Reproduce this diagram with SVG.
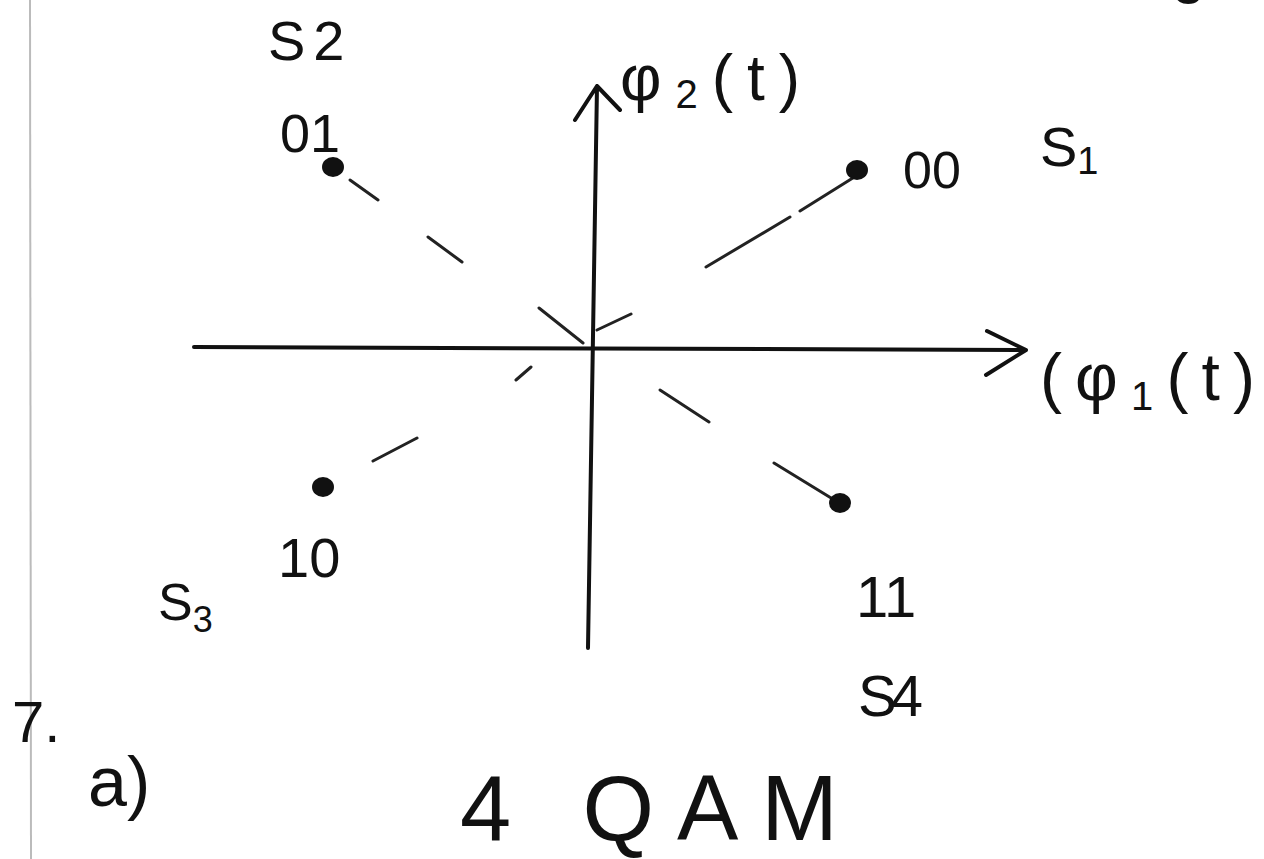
<svg xmlns="http://www.w3.org/2000/svg" width="1264" height="859" viewBox="0 0 1264 859">
<style>
  .t { font-family: "Liberation Sans", "DejaVu Sans", sans-serif; fill: #111; }
  .ax { stroke: #111; stroke-width: 4; fill: none; stroke-linecap: round; stroke-linejoin: round; }
  .ds { stroke: #222; stroke-width: 3; fill: none; stroke-linecap: round; }
  .dot { fill: #111; }
</style>
<rect width="1264" height="859" fill="#fff"/>
<line x1="30" y1="0" x2="31" y2="859" stroke="#bbb" stroke-width="2"/>
<text class="t" x="1172" y="-8" font-size="60">g</text>

<g id="connectors">
  <!-- horizontal axis -->
  <path class="ax" d="M194 347 L1026 350 M987 331 L1026 350 L986 375"/>
  <!-- vertical axis -->
  <path class="ax" d="M597 86 L588 648 M575 120 L597 86 L620 110" stroke-width="3.5"/>
  <!-- dashed lines from points to origin -->
  <path class="ds" d="M350 180 L378 200 M428 237 L462 262 M539 308 L583 343"/>
  <path class="ds" d="M856 176 L800 211 M790 217 L706 267 M597 330 L631 314"/>
  <path class="ds" d="M531 367 L516 380 M417 438 L373 461"/>
  <path class="ds" d="M660 390 L709 422 M774 463 L836 501"/>
</g>

<g id="s1">
  <ellipse class="dot" cx="857" cy="170" rx="11" ry="10"/>
  <text class="t" x="903" y="188" font-size="52">00</text>
  <text class="t" x="1040" y="166" font-size="56">S<tspan font-size="38" dy="8">1</tspan></text>
</g>
<g id="s2">
  <ellipse class="dot" cx="333" cy="167" rx="11" ry="10"/>
  <text class="t" x="280" y="152" font-size="54">01</text>
  <text class="t" x="268" y="60" font-size="56" letter-spacing="8">S2</text>
</g>
<g id="s3">
  <ellipse class="dot" cx="323" cy="487" rx="11" ry="10"/>
  <text class="t" x="278" y="577" font-size="56">10</text>
  <text class="t" x="158" y="620" font-size="52">S<tspan font-size="36" dy="12">3</tspan></text>
</g>
<g id="s4">
  <ellipse class="dot" cx="840" cy="503" rx="11" ry="10"/>
  <text class="t" x="856" y="617" font-size="58">11</text>
  <text class="t" x="858" y="716" font-size="58" letter-spacing="-6">S4</text>
</g>
<g id="labels">
  <text class="t" x="620" y="100" font-size="64" textLength="180" lengthAdjust="spacing">φ<tspan font-size="40" dy="8">2</tspan><tspan dy="-8">(t)</tspan></text>
  <text class="t" x="1040" y="400" font-size="66" textLength="215" lengthAdjust="spacing">(φ<tspan font-size="40" dy="10">1</tspan><tspan dy="-10">(t)</tspan></text>
  <text class="t" x="12" y="742" font-size="58">7.</text>
  <text class="t" x="88" y="806" font-size="70">a)</text>
  <text class="t" x="460" y="840" font-size="92" textLength="378" lengthAdjust="spacing">4 QAM</text>
</g>
</svg>
